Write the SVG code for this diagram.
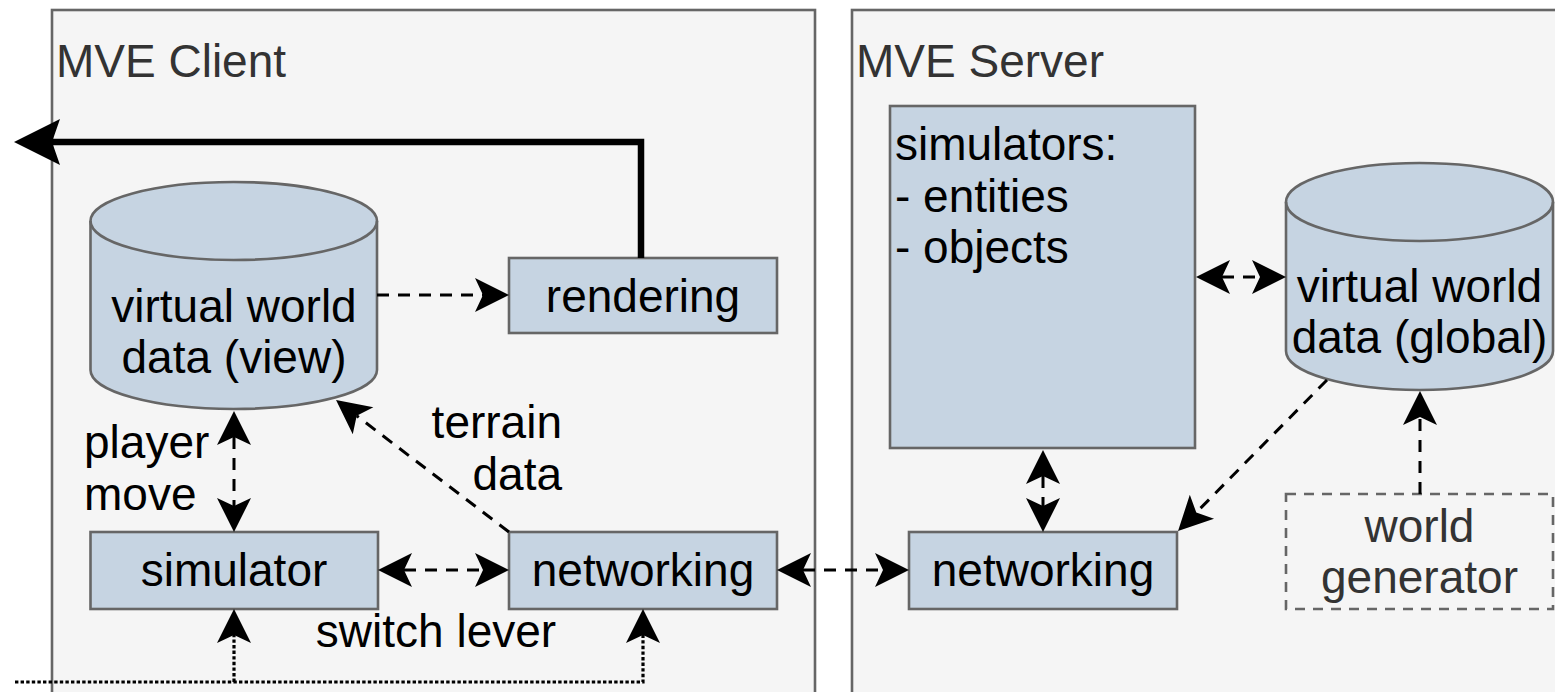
<svg xmlns="http://www.w3.org/2000/svg" width="1555" height="692" viewBox="0 0 1555 692">
  <style>
    .container { fill: #f5f5f5; stroke: #666666; stroke-width: 2.6; }
    .title { font-family: "Liberation Sans", Arial, Helvetica, sans-serif; font-size: 46px; fill: #333333; }
    .box { fill: #c6d4e2; stroke: #666666; stroke-width: 2.6; }
    .ghost { fill: none; stroke: #666666; stroke-width: 2.6; stroke-dasharray: 10 8; }
    .label { font-family: "Liberation Sans", Arial, Helvetica, sans-serif; font-size: 46px; fill: #000000; }
    .grey { fill: #333333; }
    .mid { text-anchor: middle; }
    .end { text-anchor: end; }
    .dash { fill: none; stroke: #000000; stroke-width: 3; stroke-dasharray: 12 9; }
    .dot { fill: none; stroke: #000000; stroke-width: 3.2; stroke-dasharray: 3.4 2.2; }
    .thick { fill: none; stroke: #000000; stroke-width: 6.5; stroke-linejoin: miter; }
  </style>
  <defs>
    <marker id="arrow" markerUnits="userSpaceOnUse" viewBox="-10 -20 40 40" refX="0" refY="0" markerWidth="40" markerHeight="40" orient="auto-start-reverse" overflow="visible">
      <path d="M26,0 L-8,-17 L0,0 L-8,17 Z" fill="#000000"/>
    </marker>
    <marker id="arrow-big" markerUnits="userSpaceOnUse" viewBox="-10 -26 52 52" refX="0" refY="0" markerWidth="52" markerHeight="52" orient="auto" overflow="visible">
      <path d="M38,0 L-8,-23 L0,0 L-8,23 Z" fill="#000000"/>
    </marker>
  </defs>

  <!-- containers -->
  <g id="client">
    <rect class="container" x="52" y="10" width="763" height="700"/>
    <text class="title" x="56" y="77">MVE Client</text>
  </g>
  <g id="server">
    <rect class="container" x="852" y="10" width="720" height="700"/>
    <text class="title" x="856" y="77">MVE Server</text>
  </g>

  <!-- client nodes -->
  <g id="view-data">
    <path class="box" d="M90.5,221 A143.25,39 0 0 1 377,221 L377,370 A143.25,39 0 0 1 90.5,370 Z"/>
    <path class="box" style="fill:none" d="M90.5,221 A143.25,39 0 0 0 377,221"/>
    <text class="label mid" x="234" y="322">virtual world</text>
    <text class="label mid" x="234" y="373">data (view)</text>
  </g>
  <g id="rendering">
    <rect class="box" x="509" y="258" width="268" height="75"/>
    <text class="label mid" x="643" y="312">rendering</text>
  </g>
  <g id="simulator">
    <rect class="box" x="90.5" y="532" width="287.5" height="77"/>
    <text class="label mid" x="234" y="586">simulator</text>
  </g>
  <g id="client-networking">
    <rect class="box" x="509" y="532" width="268" height="77"/>
    <text class="label mid" x="643" y="586">networking</text>
  </g>

  <!-- server nodes -->
  <g id="simulators">
    <rect class="box" x="890" y="106" width="305" height="342"/>
    <text class="label" x="895" y="160">simulators:</text>
    <text class="label" x="895" y="212">- entities</text>
    <text class="label" x="895" y="263">- objects</text>
  </g>
  <g id="global-data">
    <path class="box" d="M1286,202 A133.5,39 0 0 1 1553,202 L1553,351 A133.5,39 0 0 1 1286,351 Z"/>
    <path class="box" style="fill:none" d="M1286,202 A133.5,39 0 0 0 1553,202"/>
    <text class="label mid" x="1419.5" y="302">virtual world</text>
    <text class="label mid" x="1419.5" y="353">data (global)</text>
  </g>
  <g id="server-networking">
    <rect class="box" x="909" y="532" width="268" height="77"/>
    <text class="label mid" x="1043" y="586">networking</text>
  </g>
  <g id="world-generator">
    <rect class="ghost" x="1286" y="494" width="267" height="115"/>
    <text class="label grey mid" x="1419.5" y="542">world</text>
    <text class="label grey mid" x="1419.5" y="593">generator</text>
  </g>

  <!-- connectors -->
  <g id="connectors">
    <path class="thick" d="M641,258 V142 H52" marker-end="url(#arrow-big)"/>
    <path class="dash" d="M377,295 H483" marker-end="url(#arrow)"/>
    <path class="dash" d="M234,437 V506" marker-start="url(#arrow)" marker-end="url(#arrow)"/>
    <path class="dash" d="M509,532 L356.7,415.8" marker-end="url(#arrow)"/>
    <path class="dash" d="M404,570 H483" marker-start="url(#arrow)" marker-end="url(#arrow)"/>
    <path class="dash" d="M803,570 H883" marker-start="url(#arrow)" marker-end="url(#arrow)"/>
    <path class="dash" d="M1043,476 V506" marker-start="url(#arrow)" marker-end="url(#arrow)"/>
    <path class="dash" d="M1222,277 H1260" marker-start="url(#arrow)" marker-end="url(#arrow)"/>
    <path class="dash" d="M1327,380 L1196.3,512.5" marker-end="url(#arrow)"/>
    <path class="dash" d="M1420,494 V417" marker-end="url(#arrow)"/>
    <path class="dot" d="M15,682 H643 V635" marker-end="url(#arrow)"/>
    <path class="dot" d="M234,682 V635" marker-end="url(#arrow)"/>
  </g>

  <!-- edge labels -->
  <g id="edge-labels">
    <text class="label" x="84" y="458">player</text>
    <text class="label" x="84" y="510">move</text>
    <text class="label end" x="562" y="438">terrain</text>
    <text class="label end" x="562" y="490">data</text>
    <text class="label mid" x="436" y="647">switch lever</text>
  </g>
</svg>
